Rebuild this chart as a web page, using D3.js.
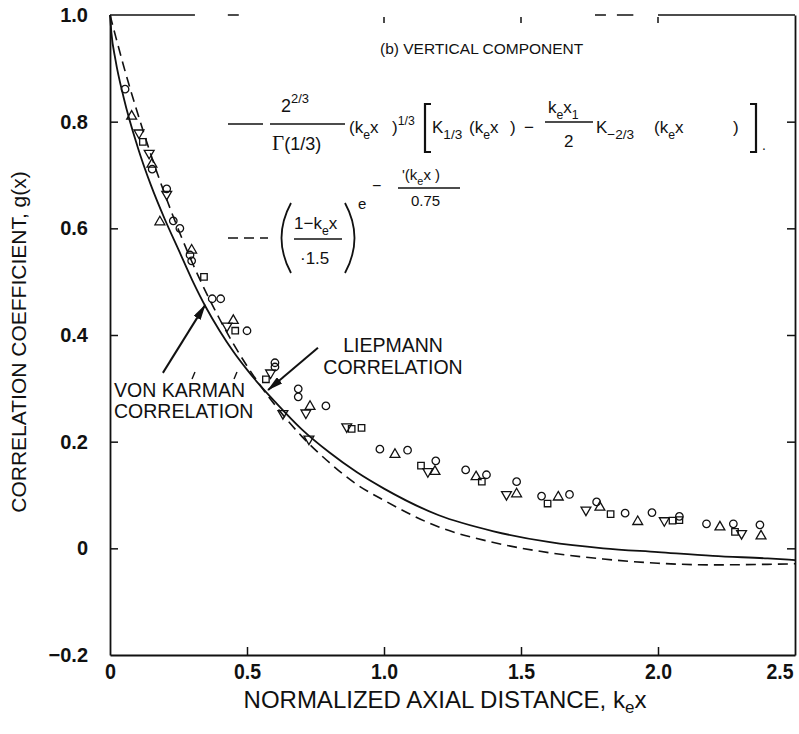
<!DOCTYPE html>
<html><head><meta charset="utf-8">
<script src="https://cdn.jsdelivr.net/npm/d3@7"></script>
<style>body{margin:0;background:#fff}svg{display:block}</style>
</head><body><svg id="chart" width="799" height="734"></svg>
<script>
// ---------- data ----------
const xTicks = [0, 0.5, 1.0, 1.5, 2.0, 2.5];
const xTickLabels = ["0", "0.5", "1.0", "1.5", "2.0", "2.5"];
const yTicks = [-0.2, 0, 0.2, 0.4, 0.6, 0.8, 1.0];
const yTickLabels = ["\u22120.2", "0", "0.2", "0.4", "0.6", "0.8", "1.0"];

const vonKarmanX = [0, 0.005, 0.02, 0.05, 0.1, 0.15, 0.2, 0.25, 0.3, 0.35, 0.4, 0.45, 0.5, 0.55, 0.6, 0.7, 0.8, 0.9, 1.0, 1.2, 1.4, 1.6, 1.8, 2.0, 2.2, 2.4, 2.5];
const vonKarman  = [1.0, 0.967, 0.916, 0.845, 0.754, 0.68, 0.617, 0.56, 0.503, 0.452, 0.408, 0.369, 0.335, 0.304, 0.276, 0.223, 0.18, 0.143, 0.112, 0.062, 0.032, 0.012, 0.0, -0.007, -0.014, -0.019, -0.022];
const liepmannX  = [0, 0.02, 0.05, 0.1, 0.15, 0.2, 0.3, 0.4, 0.5, 0.6, 0.7, 0.8, 0.9, 1.0, 1.2, 1.4, 1.6, 1.8, 2.0, 2.2, 2.4, 2.5];
const liepmann   = [1.0, 0.961, 0.904, 0.817, 0.737, 0.664, 0.536, 0.43, 0.342, 0.27, 0.21, 0.161, 0.12, 0.09, 0.04, 0.011, -0.008, -0.02, -0.028, -0.031, -0.030, -0.029];

const circlePts = [[0.055,0.861],[0.154,0.711],[0.207,0.674],[0.231,0.614],[0.255,0.60],[0.292,0.55],[0.298,0.539],[0.373,0.468],[0.404,0.468],[0.5,0.408],[0.602,0.348],[0.602,0.34],[0.687,0.299],[0.687,0.284],[0.788,0.267],[0.985,0.186],[1.086,0.184],[1.189,0.164],[1.298,0.147],[1.374,0.138],[1.484,0.125],[1.575,0.098],[1.677,0.101],[1.776,0.087],[1.88,0.066],[1.978,0.067],[2.078,0.06],[2.177,0.046],[2.275,0.046],[2.372,0.044]];
const trianglePts = [[0.079,0.81],[0.153,0.72],[0.182,0.612],[0.298,0.559],[0.45,0.427],[0.73,0.266],[1.04,0.176],[1.186,0.144],[1.336,0.134],[1.484,0.102],[1.636,0.096],[1.788,0.077],[1.926,0.05],[2.226,0.04],[2.376,0.023]];
const triangleDownPts = [[0.106,0.779],[0.143,0.741],[0.207,0.664],[0.427,0.417],[0.586,0.329],[0.631,0.253],[0.715,0.254],[0.726,0.205],[0.864,0.228],[1.16,0.144],[1.447,0.101],[1.737,0.072],[2.023,0.052],[2.305,0.028]];
const squarePts = [[0.12,0.762],[0.343,0.509],[0.457,0.408],[0.569,0.317],[0.882,0.224],[0.918,0.226],[1.135,0.155],[1.357,0.125],[1.597,0.084],[1.827,0.064],[2.053,0.052],[2.078,0.053],[2.281,0.031]];

const topBorderSegments = [[0, 0.31], [0.43, 0.47], [1.77, 1.81], [1.85, 1.91], [2.0, 2.5]];
const topTicks = [1.0, 1.5, 2.0];

// ---------- layout ----------
const svg = d3.select("#chart");
const X0 = 110, X1 = 795, Y0 = 15, Y1 = 655;
const x = d3.scaleLinear().domain([0, 2.5]).range([X0, X1]);
const y = d3.scaleLinear().domain([-0.2, 1.0]).range([Y1, Y0]);
const FONT = "'Liberation Sans', Arial, Helvetica, sans-serif";

const gx = svg.append("g").attr("transform", `translate(0,${Y1})`)
  .call(d3.axisBottom(x).tickValues(xTicks).tickFormat((d, i) => xTickLabels[i]).tickSizeInner(-8).tickSizeOuter(0).tickPadding(8));
const gy = svg.append("g").attr("transform", `translate(${X0},0)`)
  .call(d3.axisLeft(y).tickValues(yTicks).tickFormat((d, i) => yTickLabels[i]).tickSizeInner(-8).tickSizeOuter(0).tickPadding(22));
const gr = svg.append("g").attr("transform", `translate(${X1},0)`)
  .call(d3.axisRight(y).tickValues(yTicks).tickFormat("").tickSizeInner(-8).tickSizeOuter(0));
[gx, gy, gr].forEach(g => {
  g.selectAll("path.domain").attr("stroke", "#111").attr("stroke-width", 1.8);
  g.selectAll(".tick line").attr("stroke", "#111").attr("stroke-width", 1.5);
  g.selectAll(".tick text").attr("fill", "#111").attr("font-family", FONT)
    .attr("font-size", 20).attr("font-weight", "bold");
});
gx.selectAll(".tick text").attr("font-size", 22)
  .attr("textLength", (d, i) => xTickLabels[i].length > 1 ? 27 : 11)
  .attr("lengthAdjust", "spacingAndGlyphs");
gx.selectAll(".tick").filter(d => d === 2.5).select("text").attr("text-anchor", "end").attr("x", -2);
gr.selectAll(".tick").filter(d => d === 1.0 || d === -0.2).remove();
gy.selectAll(".tick line").filter(d => d === 1.0 || d === -0.2).remove();
gx.selectAll(".tick line").filter(d => d === 0 || d === 2.5).remove();

// top border (broken in the scan)
svg.append("g").selectAll("line").data(topBorderSegments).join("line")
  .attr("x1", d => x(d[0])).attr("x2", d => x(d[1]))
  .attr("y1", y(1.0)).attr("y2", y(1.0))
  .attr("stroke", "#111").attr("stroke-width", 1.5);
svg.append("g").selectAll("line").data(topTicks).join("line")
  .attr("x1", d => x(d)).attr("x2", d => x(d))
  .attr("y1", y(1.0) + 2).attr("y2", y(1.0) + 8)
  .attr("stroke", "#111").attr("stroke-width", 1.5);

// axis titles
svg.append("text").attr("x", 445).attr("y", 708).attr("text-anchor", "middle")
  .attr("font-family", FONT).attr("font-size", 24).attr("fill", "#111")
  .call(t => {
    t.append("tspan").text("NORMALIZED AXIAL DISTANCE, k");
    t.append("tspan").attr("font-size", 17).attr("dy", 5).text("e");
    t.append("tspan").attr("dy", -5).text("x");
  });
svg.append("text").attr("transform", "translate(26,342) rotate(-90)").attr("text-anchor", "middle")
  .attr("font-family", FONT).attr("font-size", 21).attr("fill", "#111")
  .text("CORRELATION COEFFICIENT, g(x)");

// curves
const line = d3.line().x(d => x(d[0])).y(d => y(d[1])).curve(d3.curveMonotoneX);
svg.append("path").datum(vonKarmanX.map((v, i) => [v, vonKarman[i]]))
  .attr("d", line).attr("fill", "none").attr("stroke", "#111").attr("stroke-width", 1.8);
svg.append("path").datum(liepmannX.map((v, i) => [v, liepmann[i]]))
  .attr("d", line).attr("fill", "none").attr("stroke", "#111").attr("stroke-width", 1.6)
  .attr("stroke-dasharray", "10,6");

// markers
function marks(data, type, size, rot) {
  svg.append("g").selectAll("path").data(data).join("path")
    .attr("d", d3.symbol().type(type).size(size))
    .attr("transform", d => `translate(${x(d[0])},${y(d[1])}) rotate(${rot})`)
    .attr("fill", "none").attr("stroke", "#111").attr("stroke-width", 1.3);
}
marks(circlePts, d3.symbolCircle, 44, 0);
marks(trianglePts, d3.symbolTriangle, 42, 0);
marks(triangleDownPts, d3.symbolTriangle, 42, 180);
marks(squarePts, d3.symbolSquare, 42, 0);

// annotations
function txt(xp, yp, s, size, anchor) {
  return svg.append("text").attr("x", xp).attr("y", yp).attr("font-family", FONT)
    .attr("font-size", size || 18).attr("fill", "#111").attr("text-anchor", anchor || "start").text(s);
}
txt(380, 54, "(b) VERTICAL COMPONENT", 15.5);
txt(393, 352, "LIEPMANN", 19.5, "middle");
txt(393, 374, "CORRELATION", 19.5, "middle");
txt(114, 397, "VON KARMAN", 19.5);
txt(114, 418, "CORRELATION", 19.5);
[[195, 372, 192, 379], [237, 372, 234, 379]].forEach(s =>
  svg.append("line").attr("x1", s[0]).attr("y1", s[1]).attr("x2", s[2]).attr("y2", s[3])
    .attr("stroke", "#111").attr("stroke-width", 1.4));

svg.append("defs").append("marker").attr("id", "ah").attr("viewBox", "0 0 16 8")
  .attr("refX", 15).attr("refY", 4).attr("markerWidth", 16).attr("markerHeight", 8)
  .attr("markerUnits", "userSpaceOnUse").attr("orient", "auto")
  .append("path").attr("d", "M0,0 L16,4 L0,8 Z").attr("fill", "#111");
function arrow(a, b) {
  svg.append("line").attr("x1", x(a[0])).attr("y1", y(a[1])).attr("x2", x(b[0])).attr("y2", y(b[1]))
    .attr("stroke", "#111").attr("stroke-width", 2).attr("marker-end", "url(#ah)");
}
arrow([0.193, 0.329], [0.347, 0.456]);
arrow([0.759, 0.376], [0.577, 0.297]);

// ---------- equations ----------
function legendLine(x1, x2, yy, dash) {
  svg.append("line").attr("x1", x1).attr("x2", x2).attr("y1", yy).attr("y2", yy)
    .attr("stroke", "#111").attr("stroke-width", 1.5).attr("stroke-dasharray", dash || null);
}
function hbar(x1, x2, yy) {
  svg.append("line").attr("x1", x1).attr("x2", x2).attr("y1", yy).attr("y2", yy)
    .attr("stroke", "#111").attr("stroke-width", 1.6);
}
function rich(xp, yp, parts, size, scale) {
  const t = svg.append("text").attr("x", xp).attr("y", yp).attr("font-family", FONT)
    .attr("font-size", size).attr("fill", "#111");
  let cur = 0;
  parts.forEach(([s, k]) => {
    const target = k === "b" ? size * 0.35 : k === "p" ? -size * 0.5 : 0;
    const ts = t.append("tspan").attr("dy", target - cur).text(s);
    if (k !== "n") ts.attr("font-size", size * (scale || 0.72));
    cur = target;
  });
  return t;
}

// equation 1 (von Karman)
legendLine(228, 263, 124);
rich(281, 112, [["2", "n"], ["2/3", "p"]], 18);
hbar(270, 345, 124);
svg.append("text").attr("x", 272).attr("y", 150).attr("font-family", FONT).attr("font-size", 18).attr("fill", "#111")
  .call(t => { t.append("tspan").attr("font-family", "'Liberation Serif', 'Times New Roman', serif").attr("font-size", 21).text("\u0393"); t.append("tspan").text("(1/3)"); });
rich(349, 133, [["(k", "n"], ["e", "b"], ["x", "n"]], 17);
rich(392, 133, [[")", "n"], ["1/3", "p"]], 17);
svg.append("path").attr("d", "M431,104 L425,104 L425,152 L431,152").attr("fill", "none").attr("stroke", "#111").attr("stroke-width", 2.2);
rich(432, 133, [["K", "n"], ["1/3", "b"]], 17, 0.8);
rich(469, 133, [["(k", "n"], ["e", "b"], ["x", "n"]], 17);
txt(510, 133, ")", 17);
txt(524, 133, "\u2212", 17);
rich(548, 113, [["k", "n"], ["e", "b"], ["x", "n"], ["1", "b"]], 17);
hbar(545, 593, 122);
txt(564, 147, "2", 17);
rich(596, 133, [["K", "n"], ["\u22122/3", "b"]], 17, 0.8);
rich(654, 133, [["(k", "n"], ["e", "b"], ["x", "n"]], 17);
txt(733, 133, ")", 17);
svg.append("path").attr("d", "M750,104 L756,104 L756,152 L750,152").attr("fill", "none").attr("stroke", "#111").attr("stroke-width", 2.2);
txt(762, 150, ".", 14);

// equation 2 (Liepmann)
legendLine(228, 268, 238, "10,6");
svg.append("path").attr("d", "M291,203 Q272,238 291,273").attr("fill", "none").attr("stroke", "#111").attr("stroke-width", 1.8);
svg.append("path").attr("d", "M345,203 Q364,238 345,273").attr("fill", "none").attr("stroke", "#111").attr("stroke-width", 1.8);
rich(294, 229, [["1\u2212k", "n"], ["e", "b"], ["x", "n"]], 17);
hbar(294, 342, 239);
txt(300, 264, "\u00b71.5", 17);
txt(358, 209, "e", 15);
txt(372, 191, "\u2212", 16);
rich(402, 180, [["'(k", "n"], ["e", "b"], ["x  )", "n"]], 15);
hbar(398, 460, 188);
txt(411, 206, "0.75", 15);
</script>
</body></html>
